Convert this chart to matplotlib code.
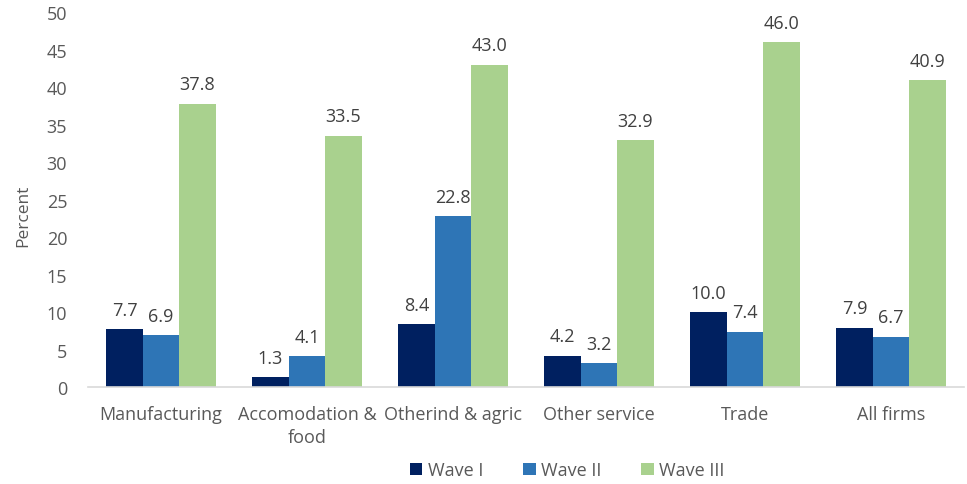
import numpy as np
import matplotlib.pyplot as plt

sectors = ['Manufacturing', 'Accomodation &\nfood', 'Otherind & agric',
           'Other service', 'Trade', 'All firms']
wave1 = [7.7, 1.3, 8.4, 4.2, 10.0, 7.9]
wave2 = [6.9, 4.1, 22.8, 3.2, 7.4, 6.7]
wave3 = [37.8, 33.5, 43.0, 32.9, 46.0, 40.9]
wave_names = ['Wave I', 'Wave II', 'Wave III']
colors = ['#002060', '#2E75B6', '#A9D18E']
grey = '#595959'

plt.rcParams['font.family'] = ['Open Sans', 'DejaVu Sans']

fig = plt.figure(figsize=(9.67, 4.85), dpi=100)
ax = fig.add_axes([0.091, 0.2, 0.906, 0.773])

x = np.arange(len(sectors))
w = 0.25
for i, vals in enumerate([wave1, wave2, wave3]):
    bars = ax.bar(x + (i - 1) * w, vals, w, color=colors[i], label=wave_names[i])
    for b, v in zip(bars, vals):
        ax.text(b.get_x() + b.get_width() / 2, v + 1.4, '%.1f' % v,
                ha='center', va='bottom', fontsize=13, color='#404040')

ax.set_xlim(-0.5, len(sectors) - 0.5)
ax.set_ylim(0, 50)
ax.set_yticks(range(0, 51, 5))
ax.set_xticks(x)
ax.set_xticklabels(sectors, linespacing=1.35)
ax.tick_params(axis='both', length=0, labelsize=13, colors=grey)
ax.tick_params(axis='x', pad=13)
ax.tick_params(axis='y', pad=15)
for s in ['top', 'right', 'left']:
    ax.spines[s].set_visible(False)
ax.spines['bottom'].set_color('#d9d9d9')
ax.spines['bottom'].set_linewidth(1.2)
ax.set_ylabel('Percent', fontsize=12.5, color=grey)
ax.yaxis.set_label_coords(-0.065, 0.46)

ax.legend(loc='lower center', bbox_to_anchor=(0.547, -0.29), ncol=3, frameon=False,
          fontsize=13, labelcolor=grey, handlelength=0.7, handleheight=0.7,
          columnspacing=2.2, handletextpad=0.3)

fig.savefig('out.png', dpi=100)
